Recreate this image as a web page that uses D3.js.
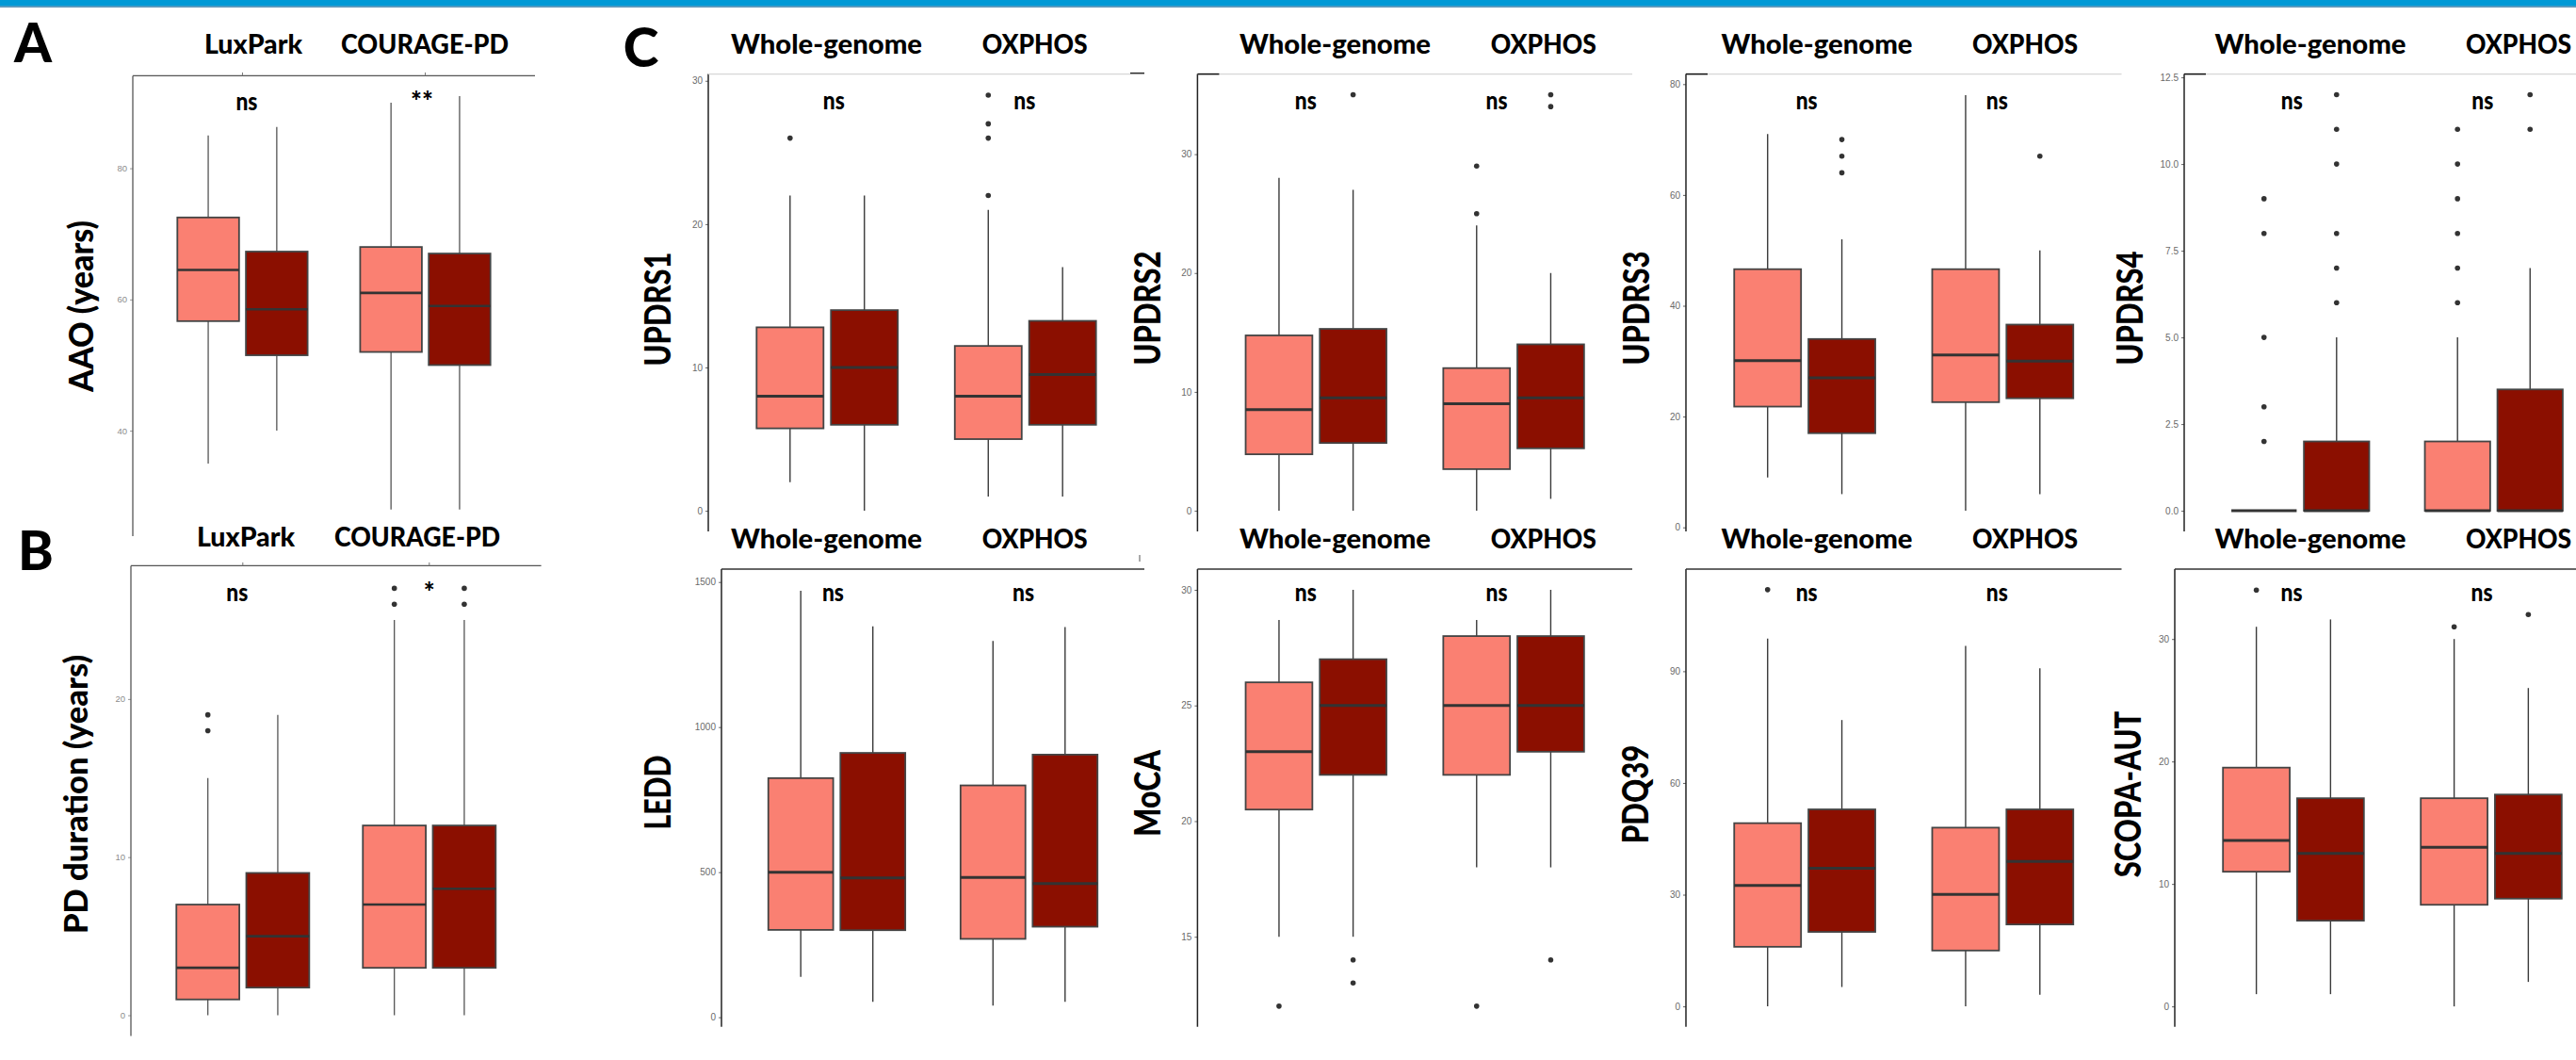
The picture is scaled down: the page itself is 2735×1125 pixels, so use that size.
<!DOCTYPE html>
<html lang="en">
<head>
<meta charset="utf-8">
<title>Box plots A, B, C</title>
<script src="https://cdn.jsdelivr.net/npm/d3@7"></script>
<style>
  body { margin: 0; background: #fff; }
  svg { display: block; }
  .bold { font-family: Lato, "Open Sans", sans-serif; font-weight: 900; fill: #000; }
  .tick text { font-family: "Liberation Sans", Arial, sans-serif; }
</style>
</head>
<body>
<script>

//Categories
let cohorts = ["LuxPark", "COURAGE-PD"];
let genomes = ["Whole-genome", "OXPHOS"];
let series = ["low", "high"];   //salmon / dark red

//Box stats: [lower whisker, Q1, median, Q3, upper whisker]
//order: group1-low, group1-high, group2-low, group2-high
let aaoBoxes    = [[35, 56.7, 64.5, 72.5, 85], [40, 51.5, 58.5, 67.3, 86.3], [28, 52, 61, 68, 90], [28, 50, 59, 67, 91]];
let aaoOut      = [[], [], [], []];
let durBoxes    = [[0, 1, 3, 7, 15], [0, 1.75, 5, 9, 19], [0, 3, 7, 12, 25], [0, 3, 8, 12, 25]];
let durOut      = [[18, 19], [], [26, 27], [26, 27]];
let updrs1Boxes = [[2, 5.75, 8, 12.8, 22], [0, 6, 10, 14, 22], [1, 5, 8, 11.5, 21], [1, 6, 9.5, 13.25, 17]];
let updrs1Out   = [[26], [], [22, 26, 27, 29], []];
let updrs2Boxes = [[0, 4.75, 8.5, 14.75, 28], [0, 5.7, 9.5, 15.3, 27], [0, 3.5, 9, 12, 24], [1, 5.25, 9.5, 14, 20]];
let updrs2Out   = [[], [35], [25, 29], [34, 35]];
let updrs3Boxes = [[9, 21.8, 30.1, 46.6, 71], [6, 17, 27, 34, 52], [3, 22.6, 31.1, 46.6, 78], [6, 23.3, 30, 36.6, 50]];
let updrs3Out   = [[], [64, 67, 70], [], [67]];
let updrs4Boxes = [[0, 0, 0, 0, 0], [0, 0, 0, 2, 5], [0, 0, 0, 2, 5], [0, 0, 0, 3.5, 7]];
let updrs4Out   = [[2, 3, 5, 8, 9], [6, 7, 8, 10, 11, 12], [6, 7, 8, 9, 10, 11], [11, 12]];
let leddBoxes   = [[139, 301, 500, 824, 1470], [53, 300, 480, 911, 1347], [40, 270, 482, 799, 1297], [53, 312, 461, 905, 1345]];
let leddOut     = [[], [], [], []];
let mocaBoxes   = [[15, 20.5, 23, 26, 28.7], [15, 22, 25, 27, 30], [18, 22, 25, 28, 28.7], [18, 23, 25, 28, 30]];
let mocaOut     = [[12], [13, 14], [12], [14]];
let pdq39Boxes  = [[0, 16, 32.5, 49.2, 98.8], [5.2, 20, 37.1, 52.9, 76.9], [0, 15, 30.1, 48, 96.8], [3.1, 22, 38.9, 52.9, 90.8]];
let pdq39Out    = [[111.9], [], [], []];
let scopaBoxes  = [[1, 11, 13.56, 19.5, 31], [1, 7, 12.5, 17, 31.6], [0, 8.3, 13, 17, 30], [2, 8.8, 12.5, 17.3, 26]];
let scopaOut    = [[34], [], [31], [32]];

//Significance labels
let aaoSig = ["ns", "**"];
let durSig = ["ns", "*"];
let nsSig  = ["ns", "ns"];

//Tick values
let aaoTicks    = [40, 60, 80];
let durTicks    = [0, 10, 20];
let updrs1Ticks = [0, 10, 20, 30];
let updrs2Ticks = [0, 10, 20, 30];
let updrs3Ticks = [0, 20, 40, 60, 80];
let updrs4Ticks = [0, 2.5, 5, 7.5, 10, 12.5];
let leddTicks   = [0, 500, 1000, 1500];
let mocaTicks   = [15, 20, 25, 30];
let pdq39Ticks  = [0, 30, 60, 90];
let scopaTicks  = [0, 10, 20, 30];

//Width and height
let w = 2735;
let h = 1125;

let color = d3.scaleOrdinal().domain(series).range(["#FA8072", "#8B0F00"]);

//Panel layout (pixel frame, y domain, label placement)
let panels = [
	{ label: "AAO (years)", groups: cohorts, boxes: aaoBoxes, out: aaoOut, sig: aaoSig, ticks: aaoTicks,
	  x0: 141, x1: 568, yTop: 80.4, yBot: 569, domain: [23.93, 94.1],
	  lx: 86, ly: 325, lLen: 182, lSize: 36, tx: [269, 451], tLen: [104, 178], ty: 57,
	  sigY: 117, sigDx: [4.5, -3.6], style: "ab" },
	{ label: "PD duration (years)", groups: cohorts, boxes: durBoxes, out: durOut, sig: durSig, ticks: durTicks,
	  x0: 139, x1: 574.6, yTop: 600.4, yBot: 1099.5, domain: [-1.31, 28.43],
	  lx: 80.5, ly: 843, lLen: 296, lSize: 35, tx: [261, 443], tLen: [104, 176], ty: 580,
	  sigY: 638, sigDx: [-6, 0], style: "ab" },
	{ label: "UPDRS1", groups: genomes, boxes: updrs1Boxes, out: updrs1Out, sig: nsSig, ticks: updrs1Ticks,
	  x0: 752, x1: 1215, yTop: 78.6, yBot: 564, domain: [-1.44, 30.47],
	  lx: 699, ly: 328, lLen: 121, lSize: 37, tx: [877.5, 1098.7], tLen: [203, 112], ty: 57,
	  sigY: 116, sigDx: [7, -1], style: "light", stub: false, endTick: true },
	{ label: "UPDRS2", groups: genomes, boxes: updrs2Boxes, out: updrs2Out, sig: nsSig, ticks: updrs2Ticks,
	  x0: 1271.4, x1: 1733, yTop: 78.6, yBot: 564, domain: [-1.74, 36.74],
	  lx: 1218.6, ly: 327, lLen: 121, lSize: 37, tx: [1417.5, 1638.8], tLen: [203, 112], ty: 57,
	  sigY: 116, sigDx: [-11, -18], style: "light", stub: true },
	{ label: "UPDRS3", groups: genomes, boxes: updrs3Boxes, out: updrs3Out, sig: nsSig, ticks: updrs3Ticks,
	  x0: 1790, x1: 2252.5, yTop: 78.6, yBot: 564, domain: [-0.73, 81.82],
	  lx: 1737.5, ly: 327, lLen: 121, lSize: 37, tx: [1929, 2150], tLen: [203, 112], ty: 57,
	  sigY: 116, sigDx: [2, -6], style: "light", stub: true },
	{ label: "UPDRS4", groups: genomes, boxes: updrs4Boxes, out: updrs4Out, sig: nsSig, ticks: updrs4Ticks,
	  x0: 2319, x1: 2771, yTop: 78.6, yBot: 564, domain: [-0.595, 12.595], fmt: ".1f",
	  lx: 2261.6, ly: 327, lLen: 121, lSize: 37, tx: [2453, 2674], tLen: [203, 112], ty: 57,
	  sigY: 116, sigDx: [-9, -12], style: "light", stub: true },
	{ label: "LEDD", groups: genomes, boxes: leddBoxes, out: leddOut, sig: nsSig, ticks: leddTicks,
	  x0: 766, x1: 1215, yTop: 604, yBot: 1089.7, domain: [-32.8, 1544.5],
	  lx: 698.4, ly: 841, lLen: 79, lSize: 37, tx: [877.5, 1098.7], tLen: [203, 112], ty: 581.6,
	  sigY: 637.5, sigDx: [-4, -6], style: "dark", markTick: true },
	{ label: "MoCA", groups: genomes, boxes: mocaBoxes, out: mocaOut, sig: nsSig, ticks: mocaTicks,
	  x0: 1271.4, x1: 1733, yTop: 604, yBot: 1089.7, domain: [11.11, 30.896],
	  lx: 1218.6, ly: 842, lLen: 92, lSize: 37, tx: [1417.5, 1638.8], tLen: [203, 112], ty: 581.6,
	  sigY: 637.5, sigDx: [-11, -18], style: "dark" },
	{ label: "PDQ39", groups: genomes, boxes: pdq39Boxes, out: pdq39Out, sig: nsSig, ticks: pdq39Ticks,
	  x0: 1790, x1: 2252.5, yTop: 604, yBot: 1089.7, domain: [-5.47, 117.43],
	  lx: 1737, ly: 843, lLen: 104.5, lSize: 37, tx: [1929, 2150], tLen: [203, 112], ty: 581.6,
	  sigY: 637.5, sigDx: [2, -6], style: "dark" },
	{ label: "SCOPA-AUT", groups: genomes, boxes: scopaBoxes, out: scopaOut, sig: nsSig, ticks: scopaTicks,
	  x0: 2309, x1: 2771, yTop: 604, yBot: 1089.7, domain: [-1.66, 35.71],
	  lx: 2259.6, ly: 843, lLen: 176.6, lSize: 37, tx: [2453, 2674], tLen: [203, 112], ty: 581.6,
	  sigY: 637.5, sigDx: [-2, -10], style: "dark" }
];

//Create SVG element
let svg = d3.select("body")
			.append("svg")
			  .attr("width", w)
			  .attr("height", h);

svg.append("rect").attr("width", w).attr("height", h).attr("fill", "#fff");

//Blue band along the top edge
svg.append("rect").attr("x", 0).attr("y", 0).attr("width", w).attr("height", 6.5).attr("fill", "#0099d6");
svg.append("rect").attr("x", 0).attr("y", 6.5).attr("width", w).attr("height", 1.2).attr("fill", "#1d6c9c");

//Panel letters
[["A", 35, 66], ["B", 38, 605], ["C", 680.5, 71]].forEach(d => {
	svg.append("text")
	   .attr("class", "bold")
	   .attr("x", d[1]).attr("y", d[2])
	   .attr("text-anchor", "middle")
	   .style("font-size", "57px")
	   .text(d[0]);
});

panels.forEach(p => {

	let g = svg.append("g");
	let isAB = p.style == "ab";
	let lineCol = isAB ? "#555" : "#3a3a3a";

	let x = d3.scaleBand()
			  .domain(p.groups)
			  .range([p.x0, p.x1])
			  .paddingInner(0)
			  .paddingOuter(0.1);

	let sub = d3.scaleBand()
				.domain(series)
				.range([0.125 * x.bandwidth(), 0.875 * x.bandwidth()]);

	let boxW = sub.bandwidth() * 0.9;

	let y = d3.scaleLinear()
			  .domain(p.domain)
			  .range([p.yBot, p.yTop]);

	//Flatten boxes
	let rows = p.boxes.map((b, i) => {
		let grp = p.groups[Math.floor(i / 2)];
		let ser = series[i % 2];
		return { grp: grp, ser: ser, cx: x(grp) + sub(ser) + sub.bandwidth() / 2,
				 lo: b[0], q1: b[1], med: b[2], q3: b[3], hi: b[4], out: p.out[i] };
	});

	//Y axis
	let axis = d3.axisLeft(y)
				 .tickValues(p.ticks)
				 .tickSize(3)
				 .tickSizeOuter(0)
				 .tickPadding(3)
				 .tickFormat(d3.format(p.fmt || "d"));

	let ag = g.append("g")
			  .attr("transform", `translate(${p.x0},0)`)
			  .call(axis);
	ag.select(".domain").remove();
	ag.selectAll(".tick line").attr("stroke", isAB ? "#999" : "#666");
	ag.selectAll(".tick text")
	  .attr("fill", isAB ? "#8c8c8c" : "#6a6a6a")
	  .style("font-size", isAB ? "9.5px" : "10px");

	g.append("line")
	 .attr("x1", p.x0).attr("x2", p.x0)
	 .attr("y1", p.yTop).attr("y2", p.yBot)
	 .attr("stroke", isAB ? "#555" : "#222")
	 .attr("stroke-width", isAB ? 1.3 : 1.5);

	//Top border
	if (p.style == "light") {
		g.append("line")
		 .attr("x1", p.x0).attr("x2", p.x1)
		 .attr("y1", p.yTop).attr("y2", p.yTop)
		 .attr("stroke", "#d6d6d6").attr("stroke-width", 1.2);
		if (p.stub) {
			g.append("line")
			 .attr("x1", p.x0).attr("x2", p.x0 + 23)
			 .attr("y1", p.yTop).attr("y2", p.yTop)
			 .attr("stroke", "#111").attr("stroke-width", 1.5);
		}
		if (p.endTick) {
			g.append("line")
			 .attr("x1", p.x1 - 15).attr("x2", p.x1)
			 .attr("y1", p.yTop - 1).attr("y2", p.yTop - 1)
			 .attr("stroke", "#222").attr("stroke-width", 1.3);
		}
	} else {
		g.append("line")
		 .attr("x1", p.x0).attr("x2", p.x1)
		 .attr("y1", p.yTop).attr("y2", p.yTop)
		 .attr("stroke", isAB ? "#555" : "#333")
		 .attr("stroke-width", isAB ? 1.3 : 1.6);
	}
	if (p.markTick) {
		g.append("line")
		 .attr("x1", p.x1 - 5).attr("x2", p.x1 - 5)
		 .attr("y1", p.yTop - 15).attr("y2", p.yTop - 8)
		 .attr("stroke", "#555").attr("stroke-width", 1);
	}
	if (isAB) {
		g.selectAll(".stripTick")
		 .data(p.groups)
		 .enter()
		 .append("line")
		   .attr("x1", d => x(d) + x.bandwidth() / 2)
		   .attr("x2", d => x(d) + x.bandwidth() / 2)
		   .attr("y1", p.yTop - 3.5).attr("y2", p.yTop)
		   .attr("stroke", "#777").attr("stroke-width", 1);
	}

	//Whiskers
	let wk = g.selectAll(".wk")
			  .data(rows)
			  .enter();
	wk.append("line")
	  .attr("x1", d => d.cx).attr("x2", d => d.cx)
	  .attr("y1", d => y(d.lo)).attr("y2", d => y(d.q1))
	  .attr("stroke", lineCol).attr("stroke-width", isAB ? 1.3 : 1.4);
	wk.append("line")
	  .attr("x1", d => d.cx).attr("x2", d => d.cx)
	  .attr("y1", d => y(d.q3)).attr("y2", d => y(d.hi))
	  .attr("stroke", lineCol).attr("stroke-width", isAB ? 1.3 : 1.4);

	//Boxes
	g.selectAll(".box")
	 .data(rows)
	 .enter()
	 .append("rect")
	   .attr("x", d => d.cx - boxW / 2)
	   .attr("width", boxW)
	   .attr("y", d => y(d.q3))
	   .attr("height", d => y(d.q1) - y(d.q3))
	   .attr("fill", d => color(d.ser))
	   .attr("stroke", "#444")
	   .attr("stroke-width", 1.8);

	//Medians
	g.selectAll(".med")
	 .data(rows)
	 .enter()
	 .append("line")
	   .attr("x1", d => d.cx - boxW / 2).attr("x2", d => d.cx + boxW / 2)
	   .attr("y1", d => y(d.med)).attr("y2", d => y(d.med))
	   .attr("stroke", "#333")
	   .attr("stroke-width", isAB ? 2.6 : 3);

	//Outliers
	rows.forEach(r => {
		g.selectAll(null)
		 .data(r.out)
		 .enter()
		 .append("circle")
		   .attr("cx", r.cx)
		   .attr("cy", d => y(d))
		   .attr("r", 2.8)
		   .attr("fill", "#333");
	});

	//Facet titles
	p.groups.forEach((t, i) => {
		g.append("text")
		 .attr("class", "bold")
		 .attr("x", p.tx[i]).attr("y", p.ty)
		 .attr("text-anchor", "middle")
		 .attr("textLength", p.tLen[i])
		 .attr("lengthAdjust", "spacingAndGlyphs")
		 .style("font-size", "28px")
		 .text(t);
	});

	//Significance labels
	p.sig.forEach((t, i) => {
		let grp = p.groups[i];
		let txt = g.append("text")
				   .attr("class", "bold")
				   .attr("x", x(grp) + x.bandwidth() / 2 + p.sigDx[i])
				   .attr("y", p.sigY)
				   .attr("text-anchor", "middle")
				   .text(t);
		if (t == "ns") {
			txt.style("font-size", "27px")
			   .attr("textLength", 23)
			   .attr("lengthAdjust", "spacingAndGlyphs");
		} else {
			txt.style("font-size", "28px");
		}
	});

	//Y axis title
	g.append("text")
	 .attr("class", "bold")
	 .attr("transform", `translate(${p.lx},${p.ly}) rotate(-90)`)
	 .attr("text-anchor", "middle")
	 .attr("dy", "0.36em")
	 .attr("textLength", p.lLen)
	 .attr("lengthAdjust", "spacingAndGlyphs")
	 .style("font-size", p.lSize + "px")
	 .text(p.label);
});

</script>
</body>
</html>
